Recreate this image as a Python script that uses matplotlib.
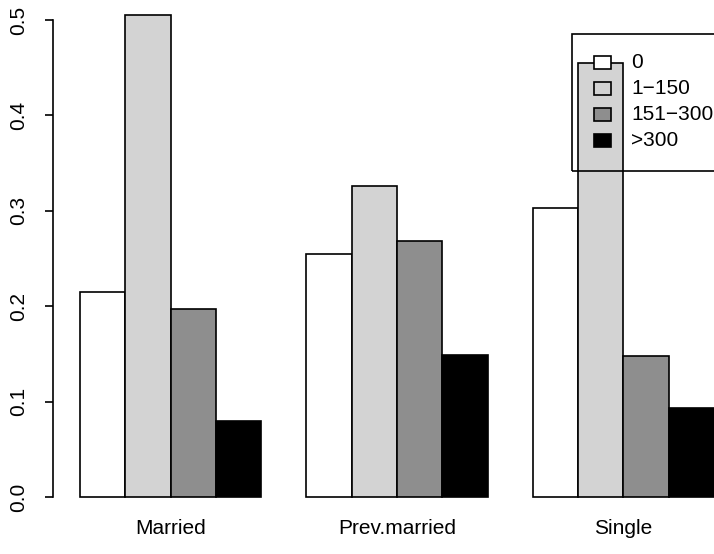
import matplotlib
matplotlib.use("Agg")
import matplotlib.pyplot as plt
from matplotlib.patches import Rectangle

plt.rcParams['font.family'] = ['Liberation Sans', 'DejaVu Sans']

# proportions by marital status and group
groups = ['Married', 'Prev.married', 'Single']
levels = ['0', '1\u2212150', '151\u2212300', '>300']
married = [0.215, 0.505, 0.197, 0.080]
prev_married = [0.255, 0.326, 0.268, 0.149]
single = [0.303, 0.455, 0.148, 0.093]
fills = ['white', '#d3d3d3', '#8e8e8e', 'black']

W, H = 714, 554
FS = 15
fig = plt.figure(figsize=(W / 100, H / 100), dpi=100)
ax = fig.add_axes([0, 0, 1, 1])

# pixel geometry of the original R plot region
px_unit_x = (714 - 80) / 14.0
px_unit_y = (497 - 20) / 0.5
ax.set_xlim(1 - 80 / px_unit_x, 1 + (W - 80) / px_unit_x)
ax.set_ylim(-(H - 497) / px_unit_y, 0.5 + 20 / px_unit_y)

for g, vals in enumerate([married, prev_married, single]):
    for j, v in enumerate(vals):
        ax.bar(1 + 5 * g + j, v, width=1.0, align='edge', color=fills[j],
               edgecolor='black', linewidth=1.2, zorder=2)
    ax.text(3 + 5 * g, -(528 - 497) / px_unit_y, groups[g], ha='center',
            va='center', fontsize=FS)

for s in ['top', 'right', 'bottom']:
    ax.spines[s].set_visible(False)
ax.spines['left'].set_position(('data', 1 - (80 - 53) / px_unit_x))
ax.spines['left'].set_bounds(0, 0.5)
ax.spines['left'].set_linewidth(1.2)
ax.set_xticks([])
ax.set_yticks([0.0, 0.1, 0.2, 0.3, 0.4, 0.5])
ax.set_yticklabels(['0.0', '0.1', '0.2', '0.3', '0.4', '0.5'], rotation=90,
                   va='center', fontsize=FS)
ax.tick_params(axis='y', direction='out', length=6, width=1.2, pad=12)

# legend, drawn in pixel coordinates
def fx(x):
    return x / W

def fy(y):
    return 1 - y / H

fig.patches.append(Rectangle((fx(572), fy(171)), fx(760) - fx(572), fy(34) - fy(171),
                             transform=fig.transFigure, fill=False,
                             edgecolor='black', linewidth=1.2, zorder=5))
for i, lab in enumerate(levels):
    yc = 62 + 26 * i
    fig.patches.append(Rectangle((fx(594), fy(yc + 6.5)), fx(17), 13 / H,
                                 transform=fig.transFigure, facecolor=fills[i],
                                 edgecolor='black', linewidth=1.2, zorder=6))
    fig.text(fx(631), fy(yc), lab, ha='left', va='center', fontsize=FS, zorder=6)

fig.savefig('out.png', dpi=100)
